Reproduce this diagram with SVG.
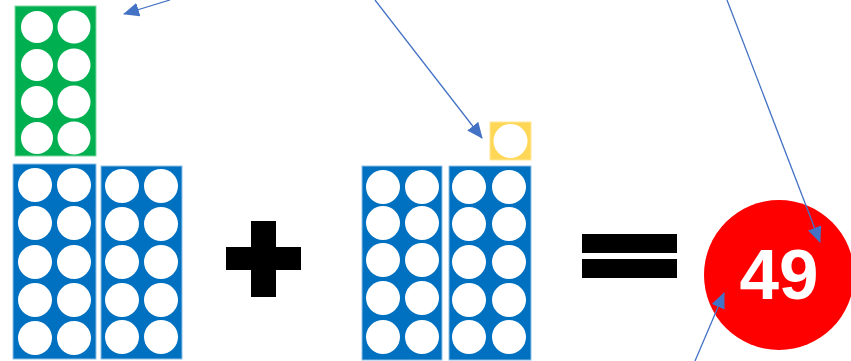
<svg xmlns="http://www.w3.org/2000/svg" width="851" height="361" viewBox="0 0 851 361">
<defs>
<style>
.g{fill:#00B050;stroke:#7FD8A0;stroke-width:1}
.b{fill:#0070C0;stroke:#8FC0E6;stroke-width:1}
.y{fill:#FFD757;stroke:#FFE89A;stroke-width:1}
.c{fill:#FFFFFF}
.k{fill:#000000}
.a{stroke:#4472C4;stroke-width:1.3;fill:none}
.t{font-family:"Liberation Sans",Arial,sans-serif;font-weight:bold;fill:#FFFFFF}
</style>
<marker id="ah" markerUnits="userSpaceOnUse" markerWidth="16" markerHeight="14" viewBox="0 0 16 14" refX="15" refY="7" orient="auto">
<path d="M0,0 L16,7 L0,14 Z" fill="#4472C4"/>
</marker>
</defs>
<rect width="851" height="361" fill="#FFFFFF"/>
<g id="green-frame">
<rect class="g" x="15" y="6" width="81" height="150"/>
<circle class="c" cx="37" cy="27" r="16"/><circle class="c" cx="74" cy="27" r="16.5"/>
<circle class="c" cx="37" cy="65" r="16"/><circle class="c" cx="74" cy="65" r="16.5"/>
<circle class="c" cx="37" cy="102" r="16"/><circle class="c" cx="74" cy="102" r="16.5"/>
<circle class="c" cx="37" cy="138" r="16"/><circle class="c" cx="74" cy="138" r="16.5"/>
</g>
<g id="blue-frame-1">
<rect class="b" x="13" y="164" width="83" height="195"/>
<circle class="c" cx="35" cy="185" r="17"/><circle class="c" cx="74" cy="185" r="17"/>
<circle class="c" cx="35" cy="223" r="17"/><circle class="c" cx="74" cy="223" r="17"/>
<circle class="c" cx="35" cy="262" r="17"/><circle class="c" cx="74" cy="262" r="17"/>
<circle class="c" cx="35" cy="300" r="17"/><circle class="c" cx="74" cy="300" r="17"/>
<circle class="c" cx="35" cy="338" r="17"/><circle class="c" cx="74" cy="338" r="17"/>
</g>
<g id="blue-frame-2">
<rect class="b" x="101" y="166" width="81" height="193"/>
<circle class="c" cx="122" cy="186" r="17"/><circle class="c" cx="161" cy="186" r="17"/>
<circle class="c" cx="122" cy="224" r="17"/><circle class="c" cx="161" cy="224" r="17"/>
<circle class="c" cx="122" cy="262" r="17"/><circle class="c" cx="161" cy="262" r="17"/>
<circle class="c" cx="122" cy="300" r="17"/><circle class="c" cx="161" cy="300" r="17"/>
<circle class="c" cx="122" cy="337" r="17"/><circle class="c" cx="161" cy="337" r="17"/>
</g>
<g id="plus">
<rect class="k" x="251" y="221" width="25" height="76"/>
<rect class="k" x="226" y="247" width="75" height="23"/>
</g>
<g id="blue-frame-3">
<rect class="b" x="362" y="166" width="80" height="194"/>
<circle class="c" cx="383" cy="187" r="17"/><circle class="c" cx="422" cy="187" r="17"/>
<circle class="c" cx="383" cy="223" r="17"/><circle class="c" cx="422" cy="223" r="17"/>
<circle class="c" cx="383" cy="260" r="17"/><circle class="c" cx="422" cy="260" r="17"/>
<circle class="c" cx="383" cy="298" r="17"/><circle class="c" cx="422" cy="298" r="17"/>
<circle class="c" cx="383" cy="337" r="17"/><circle class="c" cx="422" cy="337" r="17"/>
</g>
<g id="blue-frame-4">
<rect class="b" x="449" y="166" width="82" height="194"/>
<circle class="c" cx="469" cy="187" r="17"/><circle class="c" cx="509" cy="187" r="17"/>
<circle class="c" cx="469" cy="224" r="17"/><circle class="c" cx="509" cy="224" r="17"/>
<circle class="c" cx="469" cy="262" r="17"/><circle class="c" cx="509" cy="262" r="17"/>
<circle class="c" cx="469" cy="300" r="17"/><circle class="c" cx="509" cy="300" r="17"/>
<circle class="c" cx="469" cy="337" r="17"/><circle class="c" cx="509" cy="337" r="17"/>
</g>
<g id="yellow-one">
<rect class="y" x="490" y="122" width="41" height="38"/>
<circle class="c" cx="510.5" cy="141" r="17"/>
</g>
<g id="equals">
<rect class="k" x="582" y="234" width="95" height="19"/>
<rect class="k" x="582" y="259" width="95" height="19"/>
</g>
<g id="answer">
<circle cx="779" cy="275" r="75" fill="#FF0000"/>
<text class="t" x="779" y="299" font-size="71" text-anchor="middle">49</text>
</g>
<g id="connectors">
<line class="a" x1="170" y1="0" x2="124" y2="14" marker-end="url(#ah)"/>
<line class="a" x1="375" y1="0" x2="482" y2="138" marker-end="url(#ah)"/>
<line class="a" x1="727" y1="0" x2="820" y2="242" marker-end="url(#ah)"/>
<line class="a" x1="695" y1="361" x2="724" y2="293" marker-end="url(#ah)"/>
</g>
</svg>
